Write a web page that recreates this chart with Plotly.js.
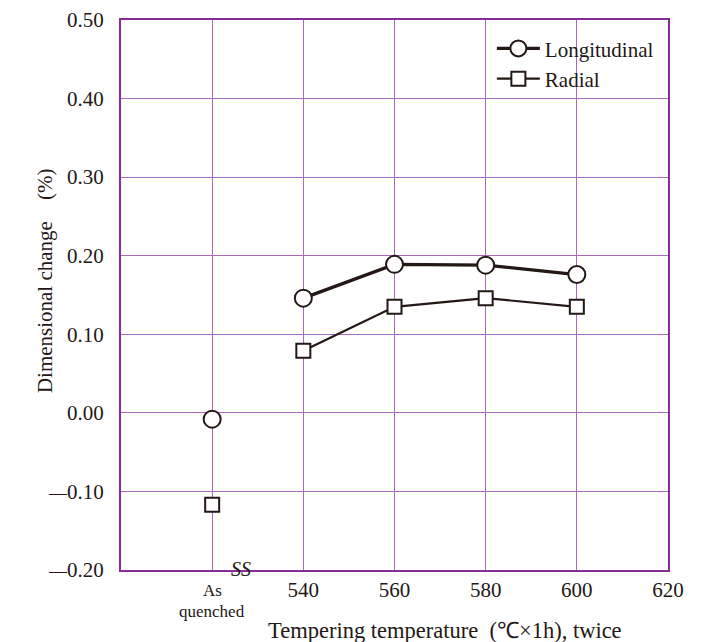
<!DOCTYPE html>
<html>
<head>
<meta charset="utf-8">
<script src="https://cdn.plot.ly/plotly-3.0.1.min.js"></script>
<style>html,body{margin:0;padding:0;background:#fff;}#chart{width:722px;height:642px;}</style>
</head>
<body>
<div id="chart"></div>
<script>
// Data
const temps = [540, 560, 580, 600];
const longitudinal = [0.146, 0.189, 0.188, 0.176];
const radial = [0.079, 0.135, 0.146, 0.135];
const asQuenchedX = [520];
const longitudinalAQ = [-0.008];
const radialAQ = [-0.117];
const asQuenchedLabel = ['As', 'quenched'];
const xTickVals = [520, 540, 560, 580, 600, 620];
const xTickText = ['', '540', '560', '580', '600', '620'];
const yTickVals = [-0.2, -0.1, 0, 0.1, 0.2, 0.3, 0.4, 0.5];
const dash = '<span style="font-size:18px">\u2014</span>';
const yTickText = [dash + '0.20', dash + '0.10', '0.00', '0.10', '0.20', '0.30', '0.40', '0.50'];

const ink = '#231815';
const frame = '#8a2b9c';
const grid = '#ac6abc';
const font = 'Liberation Serif, Times New Roman, serif';

const traces = [
  {x: temps, y: longitudinal, name: 'Longitudinal', mode: 'lines+markers',
   line: {color: ink, width: 3.3},
   marker: {symbol: 'circle', size: 17, color: '#fff', line: {color: ink, width: 2}}},
  {x: temps, y: radial, name: 'Radial', mode: 'lines+markers',
   line: {color: ink, width: 2.2},
   marker: {symbol: 'square', size: 14, color: '#fff', line: {color: ink, width: 2}}},
  {x: asQuenchedX, y: longitudinalAQ, mode: 'markers', showlegend: false,
   marker: {symbol: 'circle', size: 17, color: '#fff', line: {color: ink, width: 2}}},
  {x: asQuenchedX, y: radialAQ, mode: 'markers', showlegend: false,
   marker: {symbol: 'square', size: 14, color: '#fff', line: {color: ink, width: 2}}}
];

const layout = {
  width: 722, height: 642,
  margin: {l: 121, r: 54, t: 20, b: 72},
  paper_bgcolor: '#fff', plot_bgcolor: '#fff',
  font: {family: font, color: ink, size: 21},
  showlegend: true,
  legend: {x: 0.678, y: 0.985, xanchor: 'left', yanchor: 'top', bgcolor: 'rgba(0,0,0,0)',
           borderwidth: 0, itemwidth: 43, font: {family: font, size: 21, color: ink}},
  xaxis: {
    range: [500, 620], tickmode: 'array', tickvals: xTickVals, ticktext: xTickText,
    showgrid: true, gridcolor: grid, gridwidth: 1, zeroline: false,
    showline: true, linecolor: frame, linewidth: 2, mirror: true, ticks: '',
    tickfont: {family: font, size: 21, color: ink},
    fixedrange: true
  },
  yaxis: {
    range: [-0.2, 0.5], tickmode: 'array', tickvals: yTickVals, ticktext: yTickText,
    showgrid: true, gridcolor: grid, gridwidth: 1, zeroline: false,
    showline: true, linecolor: frame, linewidth: 2, mirror: true, ticks: '',
    ticklabelstandoff: 11,
    tickfont: {family: font, size: 21, color: ink},
    fixedrange: true
  },
  shapes: [
    {type: 'rect', xref: 'paper', yref: 'paper', x0: 0.675, x1: 0.995, y0: 0.869, y1: 0.976,
     fillcolor: '#fff', line: {width: 0}, layer: 'between'}
  ],
  annotations: [
    {x: -0.139, y: 0.527, xref: 'paper', yref: 'paper', xanchor: 'center', yanchor: 'middle',
     textangle: -90, text: 'Dimensional change\u3000(%)', showarrow: false,
     font: {family: font, size: 21, color: ink}},
    {x: asQuenchedX[0], y: 0, xref: 'x', yref: 'paper', yanchor: 'middle', yshift: -20,
     text: asQuenchedLabel[0], showarrow: false, font: {family: font, size: 17, color: ink}},
    {x: asQuenchedX[0], y: 0, xref: 'x', yref: 'paper', yanchor: 'middle', yshift: -41,
     text: asQuenchedLabel[1], showarrow: false, font: {family: font, size: 17, color: ink}},
    {x: 526.4, y: 0, xref: 'x', yref: 'paper', yanchor: 'middle', yshift: 1,
     text: '<i>SS</i>', showarrow: false, font: {family: font, size: 20, color: ink}},
    {x: 0.592, y: 0, xref: 'paper', yref: 'paper', yanchor: 'middle', yshift: -60,
     text: 'Tempering temperature\u2002(\u2103\u00d71h), twice', showarrow: false,
     font: {family: font, size: 22.5, color: ink}}
  ]
};

Plotly.newPlot('chart', traces, layout, {displayModeBar: false, staticPlot: true});
</script>
</body>
</html>
